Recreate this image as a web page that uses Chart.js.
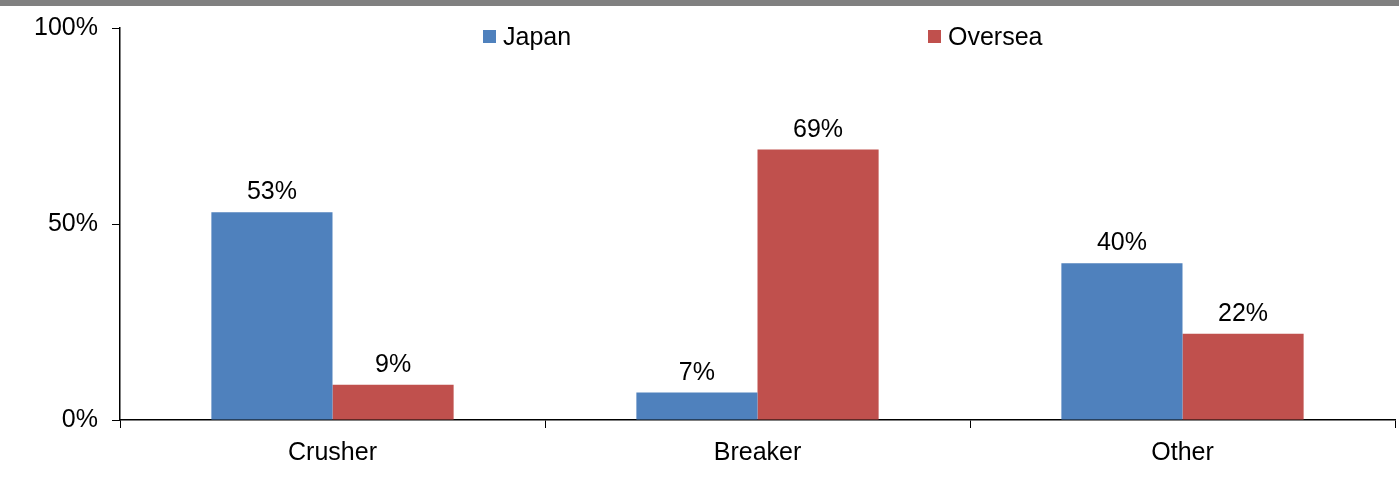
<!DOCTYPE html>
<html lang="en">
<head>
    <meta charset="UTF-8">
    <title>Japan vs Oversea</title>
    <script src="https://cdn.jsdelivr.net/npm/chart.js@4.4.1/dist/chart.umd.min.js"></script>
    <style>
        body { margin: 0; background: #fff; }
        #wrap { width: 1399px; height: 479px; border-top: 6px solid #808080; }
    </style>
</head>
<body>
    <div id="wrap">
        <canvas id="chart" width="1399" height="479"></canvas>
    </div>
    <script>
        const categorias = ['Crusher', 'Breaker', 'Other'];
        const japon = [53, 7, 40];
        const ultramar = [9, 69, 22];
        const marcasY = [0, 50, 100];

        const FUENTE = '"Liberation Sans", Arial, sans-serif';

        // Etiquetas de porcentaje encima de cada barra
        const etiquetas = {
            id: 'etiquetas',
            afterDatasetsDraw(chart) {
                const ctx = chart.ctx;
                ctx.save();
                ctx.font = '25px ' + FUENTE;
                ctx.fillStyle = '#000';
                ctx.textAlign = 'center';
                ctx.textBaseline = 'alphabetic';
                chart.data.datasets.forEach((ds, i) => {
                    chart.getDatasetMeta(i).data.forEach((bar, j) => {
                        ctx.fillText(ds.data[j] + '%', bar.x, bar.y - 13);
                    });
                });
                ctx.restore();
            }
        };

        // Leyenda dentro del area del grafico
        const leyenda = {
            id: 'leyenda',
            afterDraw(chart) {
                const ctx = chart.ctx;
                const a = chart.chartArea;
                const xs = [a.left + 363, a.left + 808];
                ctx.save();
                ctx.font = '25px ' + FUENTE;
                ctx.textBaseline = 'alphabetic';
                chart.data.datasets.forEach((ds, i) => {
                    ctx.fillStyle = ds.backgroundColor;
                    ctx.fillRect(xs[i], a.top + 2, 13, 13);
                    ctx.fillStyle = '#000';
                    ctx.fillText(ds.label, xs[i] + 20, a.top + 17);
                });
                ctx.restore();
            }
        };

        const ctx = document.getElementById('chart').getContext('2d');
        const grafica = new Chart(ctx, {
            type: 'bar',
            data: {
                labels: categorias,
                datasets: [{
                    label: 'Japan',
                    data: japon,
                    backgroundColor: '#4F81BD',
                    categoryPercentage: 0.57,
                    barPercentage: 1
                }, {
                    label: 'Oversea',
                    data: ultramar,
                    backgroundColor: '#C0504D',
                    categoryPercentage: 0.57,
                    barPercentage: 1
                }]
            },
            options: {
                responsive: false,
                animation: false,
                layout: { padding: { top: 22, right: 4, left: 0, bottom: 0 } },
                plugins: {
                    legend: { display: false },
                    tooltip: { enabled: false }
                },
                scales: {
                    x: {
                        offset: true,
                        grid: {
                            offset: true,
                            drawOnChartArea: false,
                            color: '#000',
                            tickLength: 8,
                            tickColor: '#000'
                        },
                        border: { color: '#000', width: 1.5 },
                        ticks: {
                            color: '#000',
                            padding: 10,
                            font: { family: FUENTE, size: 25 }
                        },
                        afterFit(scale) {
                            scale.height = 65;
                            scale.paddingLeft = 0;
                            scale.paddingRight = 0;
                        }
                    },
                    y: {
                        min: 0,
                        max: 100,
                        afterBuildTicks(scale) {
                            scale.ticks = marcasY.map(v => ({ value: v }));
                        },
                        grid: {
                            drawOnChartArea: false,
                            tickLength: 8,
                            tickColor: '#000'
                        },
                        border: { color: '#000', width: 1.5 },
                        ticks: {
                            color: '#000',
                            padding: 14,
                            font: { family: FUENTE, size: 25 },
                            callback: function (value) {
                                return value + '%';
                            }
                        },
                        afterFit(scale) {
                            scale.width = 120;
                            scale.paddingTop = 0;
                            scale.paddingBottom = 0;
                        }
                    }
                }
            },
            plugins: [etiquetas, leyenda]
        });
    </script>
</body>
</html>
